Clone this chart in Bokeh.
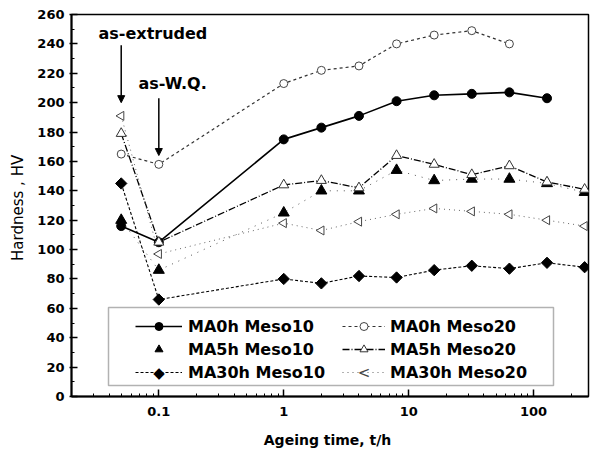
import numpy as np
from bokeh.plotting import figure
from bokeh.models import (Legend, LegendItem, Range1d, FixedTicker, SingleIntervalTicker,
                          Label, Arrow, NormalHead, BoxAnnotation)
from bokeh.embed import file_html
from bokeh.resources import INLINE

# ---- data ----
ageing_time = [0.05, 0.1, 1, 2, 4, 8, 16, 32, 64, 128, 256]
ma0h_meso10 = [116, 105, 175, 183, 191, 201, 205, 206, 207, 203]
ma0h_meso20 = [165, 158, 213, 222, 225, 240, 246, 249, 240]
ma5h_meso10 = [120, 86, 125, 140, 140, 154, 147, 148, 148, 145, 139]
ma5h_meso20 = [179, 105, 144, 147, 142, 164, 158, 151, 157, 146, 141]
ma30h_meso10 = [145, 66, 80, 77, 82, 81, 86, 89, 87, 91, 88]
ma30h_meso20 = [191, 97, 118, 113, 119, 124, 128, 126, 124, 120, 116]

x_ticks = [0.1, 1, 10, 100]
x_tick_labels = ["0.1", "1", "10", "100"]
x_minor_ticks = [k * 10.0 ** e for e in range(-2, 3) for k in range(2, 10)]

p = figure(width=590, height=454, x_axis_type="log",
           x_range=Range1d(0.02, 275), y_range=Range1d(0, 260),
           output_backend="svg", toolbar_location=None,
           min_border_left=71, min_border_right=2, min_border_top=14, min_border_bottom=58)
p.grid.visible = False
p.outline_line_color = "black"
p.outline_line_width = 1.5
p.background_fill_color = "white"
p.border_fill_color = "white"

for ax in (p.xaxis[0], p.yaxis[0]):
    ax.axis_line_color = "black"
    ax.axis_line_width = 2
    ax.major_tick_line_color = "black"
    ax.minor_tick_line_color = "black"
    ax.major_tick_line_width = 1.5
    ax.minor_tick_line_width = 1
    ax.major_label_text_font = "DejaVu Sans"
    ax.major_label_text_font_style = "bold"
    ax.major_label_text_font_size = "13px"
    ax.major_label_text_color = "black"
    ax.axis_label_text_font = "DejaVu Sans"
    ax.axis_label_text_color = "black"

p.xaxis.ticker = FixedTicker(ticks=x_ticks, minor_ticks=x_minor_ticks)
p.xaxis.major_label_overrides = dict(zip(x_ticks, x_tick_labels))
p.xaxis.major_tick_in = 7
p.xaxis.major_tick_out = 0
p.xaxis.minor_tick_in = 3
p.xaxis.minor_tick_out = 0
p.xaxis.major_label_standoff = 10
p.xaxis.axis_label = "Ageing  time, t/h"
p.xaxis.axis_label_text_font_style = "bold"
p.xaxis.axis_label_text_font_size = "14px"
p.xaxis.axis_label_standoff = 13

p.yaxis.ticker = SingleIntervalTicker(interval=20, num_minor_ticks=2)
p.yaxis.major_tick_in = 6
p.yaxis.major_tick_out = 2
p.yaxis.minor_tick_in = 3
p.yaxis.minor_tick_out = 0
p.yaxis.major_label_standoff = 5
p.yaxis.axis_label = "Hardness ,  HV"
p.yaxis.axis_label_text_font_style = "normal"
p.yaxis.axis_label_text_font_size = "15px"
p.yaxis.axis_label_standoff = 7

# ---- series ----
x0 = ageing_time[:len(ma0h_meso10)]
r1l = p.line(x0, ma0h_meso10, line_color="black", line_width=1.6)
r1m = p.scatter(x0, ma0h_meso10, marker="circle", size=9, fill_color="black", line_color="black")

x2 = ageing_time[:len(ma0h_meso20)]
r2l = p.line(x2, ma0h_meso20, line_color="#333333", line_width=1.2, line_dash="3 3")
r2m = p.scatter(x2, ma0h_meso20, marker="circle", size=8, fill_color="white",
                line_color="#444444", line_width=1)

r3l = p.line(ageing_time, ma5h_meso10, line_color="#555555", line_width=1, line_dash="1 6")
r3m = p.scatter(ageing_time, ma5h_meso10, marker="triangle", size=11, fill_color="black",
                line_color="black")

r4l = p.line(ageing_time, ma5h_meso20, line_color="black", line_width=1.3, line_dash="7 2 1 2")
r4m = p.scatter(ageing_time, ma5h_meso20, marker="triangle", size=10, fill_color="white",
                line_color="#333333", line_width=1)

r5l = p.line(ageing_time, ma30h_meso10, line_color="black", line_width=1.1, line_dash="3 2")
r5m = p.scatter(ageing_time, ma30h_meso10, marker="square", angle=np.pi / 4, size=8,
                fill_color="black", line_color="black")

r6l = p.line(ageing_time, ma30h_meso20, line_color="#666666", line_width=1, line_dash="1 4")
r6m = p.scatter(ageing_time, ma30h_meso20, marker="triangle", angle=np.pi / 2, size=9,
                fill_color="white", line_color="#444444", line_width=1)

# ---- annotations ----
p.add_layout(Label(x=0.0329, y=247, text="as-extruded", text_font="DejaVu Sans",
                   text_font_style="bold", text_font_size="16px", text_baseline="middle",
                   text_align="left", text_color="black"))
p.add_layout(Label(x=0.0687, y=213, text="as-W.Q.", text_font="DejaVu Sans",
                   text_font_style="bold", text_font_size="16px", text_baseline="middle",
                   text_align="left", text_color="black"))
p.add_layout(Arrow(end=NormalHead(size=7, fill_color="black", line_color="black"),
                   x_start=0.05, y_start=239, x_end=0.05, y_end=200,
                   line_color="black", line_width=1.5))
p.add_layout(Arrow(end=NormalHead(size=7, fill_color="black", line_color="black"),
                   x_start=0.1, y_start=203, x_end=0.1, y_end=164,
                   line_color="black", line_width=1.5))

# legend frame + two legend columns
p.add_layout(BoxAnnotation(left=108, right=553, top=307, bottom=385,
                           left_units="canvas", right_units="canvas",
                           top_units="canvas", bottom_units="canvas",
                           fill_color="white", fill_alpha=1, line_color="black",
                           line_width=1.5, level="annotation"))

leg_kw = dict(border_line_alpha=0, background_fill_alpha=0, padding=0, margin=0, spacing=3,
              glyph_height=20, label_height=20, label_text_font="DejaVu Sans",
              label_text_font_style="bold", label_text_font_size="16px",
              label_text_color="black")
leg1 = Legend(items=[LegendItem(label="MA0h Meso10", renderers=[r1l, r1m]),
                     LegendItem(label="MA5h Meso10", renderers=[r3m]),
                     LegendItem(label="MA30h Meso10", renderers=[r5l])],
              location=(64, 14), glyph_width=47, label_standoff=6, **leg_kw)
leg2 = Legend(items=[LegendItem(label="MA0h Meso20", renderers=[r2l, r2m]),
                     LegendItem(label="MA5h Meso20", renderers=[r4l, r4m]),
                     LegendItem(label="MA30h Meso20", renderers=[r6l])],
              location=(271, 14), glyph_width=43, label_standoff=5, **leg_kw)
p.add_layout(leg1, "center")
p.add_layout(leg2, "center")

# rotated legend symbols (the legend does not rotate markers)
p.add_layout(Label(x=87.5, y=24, text="\u25c6", x_units="screen", y_units="screen",
                   text_font="DejaVu Sans", text_font_size="15px", text_align="center",
                   text_baseline="middle", text_color="black"))
p.add_layout(Label(x=292.5, y=24, text="<", x_units="screen", y_units="screen",
                   text_font="DejaVu Sans", text_font_size="15px", text_align="center",
                   text_baseline="middle", text_color="#444444",
                   background_fill_color="white"))

open("out.html", "w").write(file_html(p, INLINE))
